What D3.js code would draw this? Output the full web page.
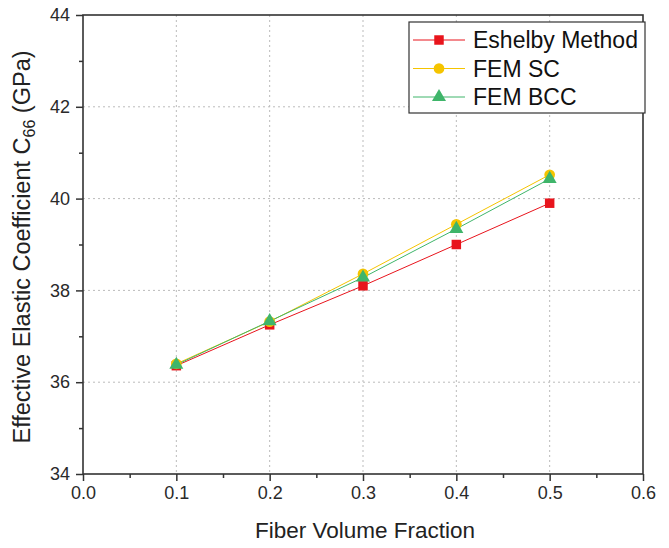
<!DOCTYPE html>
<html><head><meta charset="utf-8">
<script src="https://cdn.jsdelivr.net/npm/d3@7"></script>
<style>body{margin:0;background:#fff}svg{display:block}text{font-family:"Liberation Sans",Arial,sans-serif}</style>
</head><body>
<svg id="c" width="669" height="548"></svg>
<script>
const fractions = [0.1, 0.2, 0.3, 0.4, 0.5];
const eshelby = [36.36, 37.25, 38.1, 39.0, 39.9];
const femSC = [36.4, 37.32, 38.36, 39.44, 40.52];
const femBCC = [36.38, 37.33, 38.28, 39.34, 40.43];
const seriesNames = ["Eshelby Method", "FEM SC", "FEM BCC"];
const xTicks = [0, 0.1, 0.2, 0.3, 0.4, 0.5, 0.6];
const yTicks = [34, 36, 38, 40, 42, 44];

const svg = d3.select("#c");
const L = 83, R = 643, T = 15, B = 474;
const x = d3.scaleLinear().domain([0, 0.6]).range([L, R]);
const y = d3.scaleLinear().domain([34, 44]).range([B, T]);
const axisColor = "#333";

// grid
const g = svg.append("g");
g.selectAll(".gx").data(xTicks.slice(1, -1)).enter().append("line")
  .attr("x1", d => x(d)).attr("x2", d => x(d)).attr("y1", T).attr("y2", B)
  .attr("stroke", "#bbb").attr("stroke-dasharray", "2,3").attr("stroke-width", 1);
g.selectAll(".gy").data(yTicks.slice(1, -1)).enter().append("line")
  .attr("y1", d => y(d)).attr("y2", d => y(d)).attr("x1", L).attr("x2", R)
  .attr("stroke", "#bbb").attr("stroke-dasharray", "2,3").attr("stroke-width", 1);

// axes
const xAxis = d3.axisBottom(x).tickValues(xTicks).tickFormat(d3.format(".1f")).tickSize(7).tickPadding(5);
const xMinor = d3.axisBottom(x).tickValues(d3.range(0.05, 0.6, 0.1)).tickFormat("").tickSize(4);
const yAxis = d3.axisLeft(y).tickValues(yTicks).tickFormat(d3.format("d")).tickSize(7).tickPadding(6);
const yMinor = d3.axisLeft(y).tickValues(d3.range(35, 44, 2)).tickFormat("").tickSize(4);

function styleAxis(sel) {
  sel.select(".domain").remove();
  sel.selectAll("line").attr("stroke", axisColor).attr("stroke-width", 1.5);
  sel.selectAll("text").attr("fill", "#2a2a2a").style("font-size", "18px");
}
svg.append("g").attr("transform", `translate(0,${B})`).call(xAxis).call(styleAxis);
svg.append("g").attr("transform", `translate(0,${B})`).call(xMinor).call(styleAxis);
svg.append("g").attr("transform", `translate(${L},0)`).call(yAxis).call(styleAxis);
svg.append("g").attr("transform", `translate(${L},0)`).call(yMinor).call(styleAxis);

svg.append("rect").attr("x", L).attr("y", T).attr("width", R - L).attr("height", B - T)
  .attr("fill", "none").attr("stroke", axisColor).attr("stroke-width", 1.6);

// series
const series = [
  {name: seriesNames[0], vals: eshelby, color: "#e8141c", marker: d3.symbolSquare, size: 90},
  {name: seriesNames[1], vals: femSC, color: "#f5c400", marker: d3.symbolCircle, size: 90},
  {name: seriesNames[2], vals: femBCC, color: "#3fb56a", marker: d3.symbolTriangle, size: 85}
];
const line = d3.line().x((d, i) => x(fractions[i])).y(d => y(d));
series.forEach(s => {
  svg.append("path").datum(s.vals).attr("d", line).attr("fill", "none")
    .attr("stroke", s.color).attr("stroke-width", 1);
});
series.forEach(s => {
  svg.selectAll(null).data(s.vals).enter().append("path")
    .attr("d", d3.symbol().type(s.marker).size(s.size))
    .attr("transform", (d, i) => `translate(${x(fractions[i])},${y(d)})`)
    .attr("fill", s.color);
});

// legend
const lg = svg.append("g");
lg.append("rect").attr("x", 409).attr("y", 22).attr("width", 236).attr("height", 91)
  .attr("fill", "#fff").attr("stroke", axisColor).attr("stroke-width", 1.2);
series.forEach((s, i) => {
  const ly = 40 + i * 28.5;
  lg.append("line").attr("x1", 413).attr("x2", 465).attr("y1", ly).attr("y2", ly)
    .attr("stroke", s.color).attr("stroke-width", 1);
  lg.append("path").attr("d", d3.symbol().type(s.marker).size(s.size))
    .attr("transform", `translate(439,${ly})`).attr("fill", s.color);
  lg.append("text").attr("x", 473).attr("y", ly + 8).text(s.name)
    .attr("fill", "#111").style("font-size", "23px");
});

// axis titles
svg.append("text").attr("x", (L + R) / 2 + 2).attr("y", 538).attr("text-anchor", "middle")
  .style("font-size", "22.5px").attr("fill", "#222").text("Fiber Volume Fraction");
const yt = svg.append("text").attr("transform", "translate(30,247) rotate(-90)")
  .attr("text-anchor", "middle").style("font-size", "23.5px").attr("fill", "#222");
yt.append("tspan").text("Effective Elastic Coefficient C");
yt.append("tspan").attr("dy", 5).style("font-size", "16px").text("66");
yt.append("tspan").attr("dy", -5).text(" (GPa)");
</script>
</body></html>
